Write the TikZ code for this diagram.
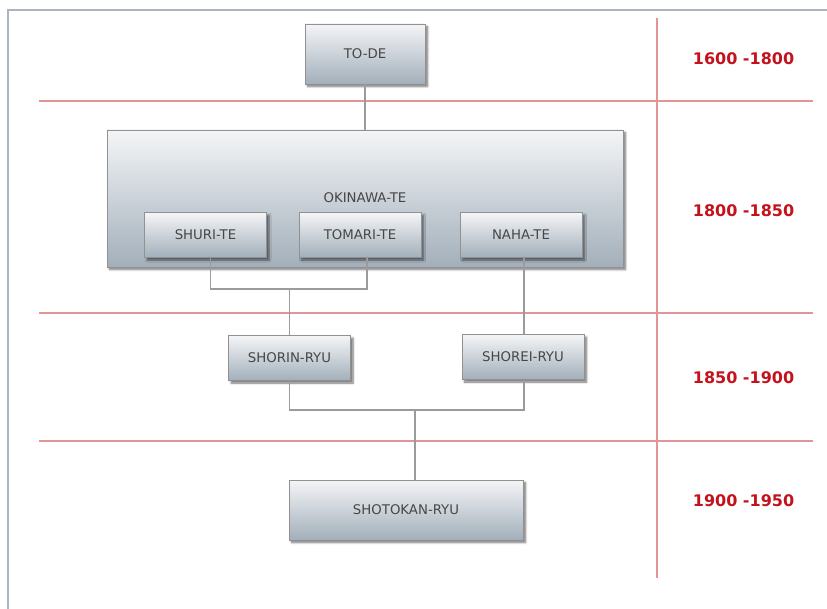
\documentclass[tikz,border=0pt]{standalone}
\usepackage{fontspec}
\setmainfont{DejaVu Sans}
\usetikzlibrary{shadows.blur}
\definecolor{framecol}{RGB}{172,180,194}
\definecolor{redline}{RGB}{224,150,150}
\definecolor{yearcol}{RGB}{196,18,28}
\definecolor{boxtop}{RGB}{244,245,247}
\definecolor{boxbot}{RGB}{162,175,186}
\definecolor{boxborder}{RGB}{145,145,145}
\definecolor{linkcol}{RGB}{155,155,155}
\definecolor{txtcol}{RGB}{70,70,70}
\tikzset{
  box/.style={draw=boxborder, line width=0.7pt, top color=boxtop, bottom color=boxbot,
    blur shadow={shadow xshift=2.5pt, shadow yshift=-2.5pt, shadow blur steps=6, shadow blur radius=2pt, shadow opacity=55},
    text=txtcol, font=\fontsize{13.3}{15}\selectfont, inner sep=0pt},
  link/.style={draw=linkcol, line width=1.3pt},
  divider/.style={draw=redline, line width=1.1pt},
  year/.style={text=yearcol, font=\fontsize{16}{19}\selectfont\bfseries},
  lbl/.style={text=txtcol, font=\fontsize{13.3}{15}\selectfont}
}
\begin{document}
\begin{tikzpicture}[x=1pt,y=-1pt]
\useasboundingbox (0,0) rectangle (827,609);
% frame
\draw[framecol, line width=2pt] (8,609) -- (8,10) -- (827,10);
% red grid
\coordinate (h1a) at (39,101); \coordinate (h1b) at (813,101);
\coordinate (h2a) at (39,313); \coordinate (h2b) at (813,313);
\coordinate (h3a) at (39,441); \coordinate (h3b) at (813,441);
\coordinate (va) at (657,18); \coordinate (vb) at (657,578);
\draw[divider] (h1a) -- (h1b);
\draw[divider] (h2a) -- (h2b);
\draw[divider] (h3a) -- (h3b);
\draw[divider] (va) -- (vb);
% years
\node[year] (y1) at (743.5,59) {1600 -1800};
\node[year] (y2) at (743.5,211) {1800 -1850};
\node[year] (y3) at (743.5,378) {1850 -1900};
\node[year] (y4) at (743.5,501) {1900 -1950};
% boxes
\node[box, minimum width=120pt, minimum height=60pt] (tode) at (365,54) {TO-DE};
\node[box, minimum width=516pt, minimum height=137pt] (okinawa) at (365,198.5) {};
\node[lbl] (okilbl) at (365,198) {OKINAWA-TE};
\node[box, minimum width=122pt, minimum height=45pt] (shuri) at (205.5,235) {SHURI-TE};
\node[box, minimum width=122pt, minimum height=45pt] (tomari) at (360,235) {TOMARI-TE};
\node[box, minimum width=122pt, minimum height=45pt] (naha) at (521,235) {NAHA-TE};
\node[box, minimum width=122pt, minimum height=45pt] (shorin) at (289.5,358) {SHORIN-RYU};
\node[box, minimum width=122pt, minimum height=45pt] (shorei) at (523,357) {SHOREI-RYU};
\node[box, minimum width=234pt, minimum height=60pt] (shotokan) at (406,510) {SHOTOKAN-RYU};
% connectors
\coordinate (j1) at (289.5,289);
\coordinate (j2) at (415,410);
\draw[link] (tode.south) -- (okinawa.north);
\draw[link] ([xshift=5pt]shuri.south) |- (j1) -| ([xshift=7pt]tomari.south);
\draw[link] (j1) -- (shorin.north);
\draw[link] ([xshift=3pt]naha.south) -- ([xshift=1pt]shorei.north);
\draw[link] (shorin.south) |- (j2) -| ([xshift=1pt]shorei.south);
\draw[link] (j2) -- ([xshift=9pt]shotokan.north);
\end{tikzpicture}
\end{document}
